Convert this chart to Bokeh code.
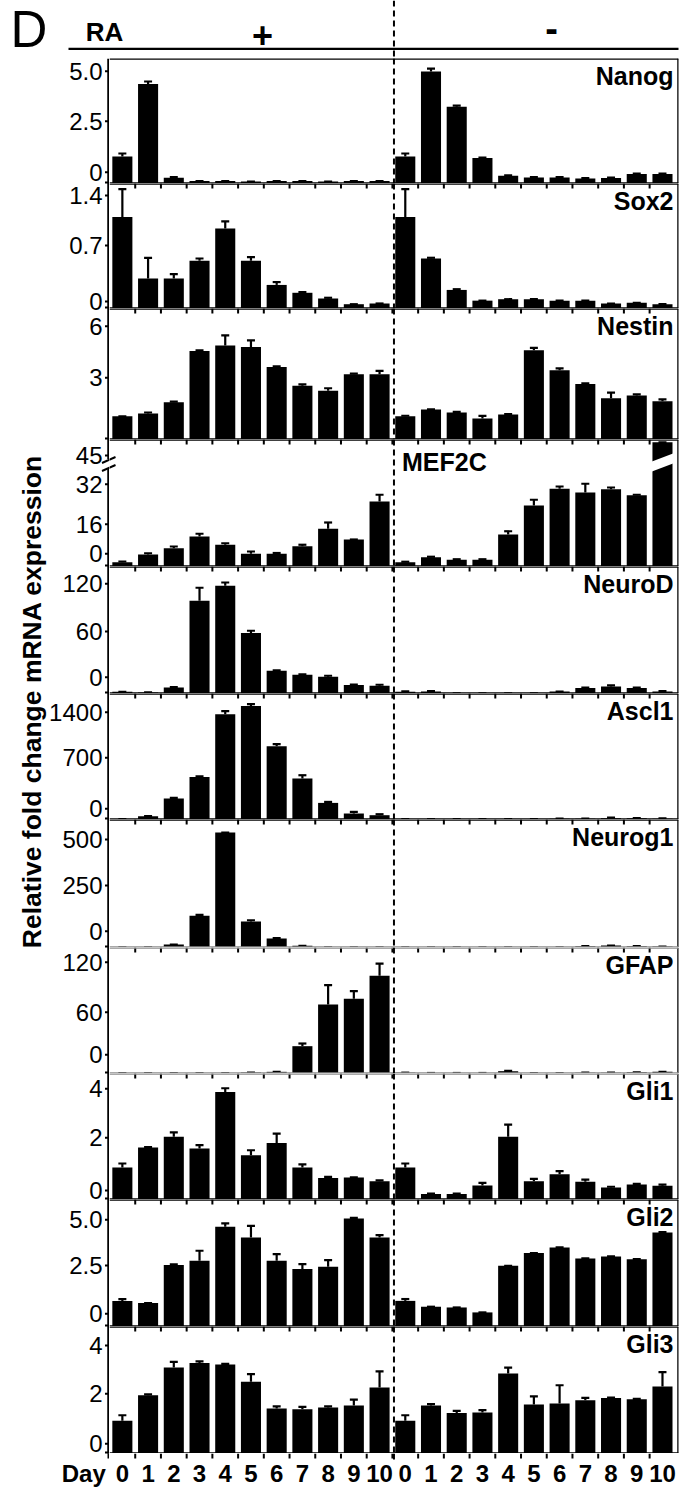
import math
from bokeh.plotting import figure
from bokeh.layouts import column, row
from bokeh.models import (Range1d, Span, Whisker, TeeHead, ColumnDataSource, Arrow)
from bokeh.embed import file_html
from bokeh.resources import INLINE
from bokeh.core.properties import value

# ---------------- data ----------------
DAYS = ["0", "1", "2", "3", "4", "5", "6", "7", "8", "9", "10"]
GENES = ["Nanog", "Sox2", "Nestin", "MEF2C", "NeuroD", "Ascl1", "Neurog1",
         "GFAP", "Gli1", "Gli2", "Gli3"]

NANOG_RA = [1.35, 4.97, 0.29, 0.12, 0.12, 0.10, 0.12, 0.12, 0.10, 0.12, 0.12]
NANOG_RA_SEM = [0.15, 0.13, 0.03, 0, 0, 0, 0, 0, 0, 0, 0]
NANOG_NORA = [1.35, 5.60, 3.84, 1.27, 0.39, 0.30, 0.30, 0.25, 0.27, 0.47, 0.47]
NANOG_NORA_SEM = [0.15, 0.14, 0.05, 0.03, 0.02, 0.02, 0.02, 0.02, 0.02, 0.02, 0.02]
NANOG_TICKS = ["0", "2.5", "5.0"]

SOX2_RA = [1.28, 0.42, 0.42, 0.67, 1.12, 0.67, 0.33, 0.22, 0.14, 0.06, 0.07]
SOX2_RA_SEM = [0.39, 0.29, 0.06, 0.03, 0.10, 0.05, 0.04, 0.01, 0.01, 0, 0]
SOX2_NORA = [1.28, 0.70, 0.26, 0.11, 0.13, 0.13, 0.11, 0.11, 0.07, 0.08, 0.06]
SOX2_NORA_SEM = [0.39, 0.01, 0.01, 0, 0, 0, 0, 0, 0, 0, 0]
SOX2_TICKS = ["0", "0.7", "1.4"]

NESTIN_RA = [1.35, 1.51, 2.17, 5.15, 5.47, 5.38, 4.22, 3.12, 2.83, 3.80, 3.80]
NESTIN_RA_SEM = [0, 0.06, 0.03, 0.03, 0.58, 0.38, 0.03, 0.08, 0.15, 0.03, 0.19]
NESTIN_NORA = [1.35, 1.74, 1.57, 1.22, 1.45, 5.19, 4.03, 3.22, 2.40, 2.56, 2.23]
NESTIN_NORA_SEM = [0.03, 0.02, 0.04, 0.15, 0.03, 0.14, 0.10, 0.04, 0.33, 0.06, 0.10]
NESTIN_TICKS = ["3", "6"]

MEF2C_RA = [1.7, 4.8, 7.3, 12.0, 8.7, 5.1, 5.1, 8.1, 15.1, 10.8, 26.0]
MEF2C_RA_SEM = [0.3, 0.5, 0.7, 1.1, 0.6, 0.9, 0.3, 0.6, 2.5, 0, 2.7]
MEF2C_NORA = [1.7, 3.7, 2.7, 2.7, 12.8, 24.4, 31.1, 29.6, 30.9, 28.5, 49.7]
MEF2C_NORA_SEM = [0.2, 0.2, 0.2, 0.2, 1.3, 2.3, 0.9, 3.5, 0.7, 0.2, 0]
MEF2C_TICKS = ["0", "16", "32", "45"]

NEUROD_RA = [2.1, 1.3, 7.5, 116.6, 135.5, 76.0, 28.6, 23.5, 21.0, 10.6, 9.7]
NEUROD_RA_SEM = [0, 0, 0.5, 16.4, 4.1, 2.9, 0.5, 0.5, 1.3, 0.5, 1.3]
NEUROD_NORA = [2.1, 2.5, 0.3, 0.3, 0.3, 0.3, 2.5, 6.8, 8.8, 6.8, 2.5]
NEUROD_NORA_SEM = [0.5, 0.5, 0, 0, 0, 0, 0, 0.5, 1.3, 0.5, 0.5]
NEUROD_TICKS = ["0", "60", "120"]

ASCL1_RA = [5, 51, 322, 654, 1617, 1745, 1126, 630, 255, 92, 66]
ASCL1_RA_SEM = [0, 0, 10, 10, 47, 26, 31, 50, 15, 25, 15]
ASCL1_NORA = [5, 5, 5, 5, 5, 8, 13, 13, 18, 18, 13]
ASCL1_NORA_SEM = [0, 0, 0, 0, 0, 0, 0, 0, 10, 5, 5]
ASCL1_TICKS = ["0", "700", "1400"]

NEUROG1_RA = [1, 1, 16, 172, 625, 141, 49, 9, 1, 1, 1]
NEUROG1_RA_SEM = [0, 0, 0, 5, 0, 7, 2, 0, 0, 0, 0]
NEUROG1_NORA = [1, 1, 1, 1, 1, 1, 1, 7, 11, 7, 5]
NEUROG1_NORA_SEM = [0, 0, 0, 0, 0, 0, 0, 0, 0, 0, 0]
NEUROG1_TICKS = ["0", "250", "500"]

GFAP_RA = [0.6, 0.6, 0.6, 0.6, 0.6, 1.2, 2.0, 32.8, 82.8, 89.6, 117.2]
GFAP_RA_SEM = [0, 0, 0, 0, 0, 0, 0, 3.2, 23.2, 9.2, 14.8]
GFAP_NORA = [1.0, 0.6, 0.6, 0.6, 2.8, 0.6, 0.6, 1.0, 1.0, 1.5, 2.0]
GFAP_NORA_SEM = [0, 0, 0, 0, 0.4, 0, 0, 0, 0, 0, 0]
GFAP_TICKS = ["0", "60", "120"]

GLI1_RA = [1.31, 2.12, 2.56, 2.08, 4.39, 1.81, 2.31, 1.31, 0.88, 0.90, 0.75]
GLI1_RA_SEM = [0.16, 0.02, 0.18, 0.14, 0.15, 0.20, 0.38, 0.12, 0.04, 0, 0.03]
GLI1_NORA = [1.31, 0.22, 0.22, 0.57, 2.56, 0.75, 1.03, 0.72, 0.49, 0.61, 0.56]
GLI1_NORA_SEM = [0.16, 0.02, 0.02, 0.11, 0.50, 0.09, 0.13, 0.09, 0.03, 0.03, 0.05]
GLI1_TICKS = ["0", "2", "4"]

GLI2_RA = [1.40, 1.28, 3.36, 3.59, 5.45, 4.86, 3.59, 3.14, 3.26, 5.90, 4.86]
GLI2_RA_SEM = [0.10, 0, 0.03, 0.55, 0.18, 0.64, 0.37, 0.27, 0.37, 0.04, 0.13]
GLI2_NORA = [1.40, 1.08, 1.04, 0.77, 3.32, 4.01, 4.32, 3.72, 3.83, 3.68, 5.14]
GLI2_NORA_SEM = [0.10, 0, 0, 0, 0, 0, 0, 0, 0, 0, 0.02]
GLI2_TICKS = ["0", "2.5", "5.0"]

GLI3_RA = [1.35, 2.41, 3.55, 3.74, 3.68, 2.96, 1.86, 1.83, 1.90, 1.98, 2.73]
GLI3_RA_SEM = [0.23, 0.03, 0.24, 0.07, 0.02, 0.32, 0.09, 0.10, 0.05, 0.25, 0.66]
GLI3_NORA = [1.35, 1.98, 1.67, 1.69, 3.31, 2.02, 2.07, 2.20, 2.29, 2.24, 2.77]
GLI3_NORA_SEM = [0.23, 0.06, 0.09, 0.10, 0.24, 0.34, 0.75, 0.10, 0.02, 0.02, 0.59]
GLI3_TICKS = ["0", "2", "4"]

DATA = {
    "Nanog": (NANOG_RA, NANOG_RA_SEM, NANOG_NORA, NANOG_NORA_SEM, NANOG_TICKS),
    "Sox2": (SOX2_RA, SOX2_RA_SEM, SOX2_NORA, SOX2_NORA_SEM, SOX2_TICKS),
    "Nestin": (NESTIN_RA, NESTIN_RA_SEM, NESTIN_NORA, NESTIN_NORA_SEM, NESTIN_TICKS),
    "MEF2C": (MEF2C_RA, MEF2C_RA_SEM, MEF2C_NORA, MEF2C_NORA_SEM, MEF2C_TICKS),
    "NeuroD": (NEUROD_RA, NEUROD_RA_SEM, NEUROD_NORA, NEUROD_NORA_SEM, NEUROD_TICKS),
    "Ascl1": (ASCL1_RA, ASCL1_RA_SEM, ASCL1_NORA, ASCL1_NORA_SEM, ASCL1_TICKS),
    "Neurog1": (NEUROG1_RA, NEUROG1_RA_SEM, NEUROG1_NORA, NEUROG1_NORA_SEM, NEUROG1_TICKS),
    "GFAP": (GFAP_RA, GFAP_RA_SEM, GFAP_NORA, GFAP_NORA_SEM, GFAP_TICKS),
    "Gli1": (GLI1_RA, GLI1_RA_SEM, GLI1_NORA, GLI1_NORA_SEM, GLI1_TICKS),
    "Gli2": (GLI2_RA, GLI2_RA_SEM, GLI2_NORA, GLI2_NORA_SEM, GLI2_TICKS),
    "Gli3": (GLI3_RA, GLI3_RA_SEM, GLI3_NORA, GLI3_NORA_SEM, GLI3_TICKS),
}

# ---------------- layout (page pixel positions) ----------------
FONT = "Liberation Sans"
PAGE_W = 687
PAGE_H = 1488
FRAME_X0 = 109                      # left edge of the bar frames
PANEL_W = PAGE_W - FRAME_X0
RIGHT_B = 9
FRAME_W = PANEL_W - RIGHT_B
SLOT_PX = 25.72
X_END = FRAME_W / SLOT_PX
DASH_X = 11.06
BAR_W = 0.78
HEADER_H = 58
BOTTOM_TOP = 1453
AXIS_X = 108.0
GRAY = "#8c8c8c"

LAYOUT = {
    "Nanog":   dict(top=58, bot=183, ppu=20.0, tick_y=[171.7, 120.7, 70.7]),
    "Sox2":    dict(top=183, bot=308, ppu=71.43, tick_y=[301.0, 245.0, 195.0]),
    "Nestin":  dict(top=308, bot=439, ppu=17.2, tick_y=[377.3, 325.7]),
    "MEF2C":   dict(top=439, bot=566, ppu=2.5, tick_y=[553.3, 523.7, 483.7, 455.0]),
    "NeuroD":  dict(top=566, bot=693, ppu=0.795, tick_y=[676.7, 631.0, 583.3]),
    "Ascl1":   dict(top=693, bot=819, ppu=0.0651, tick_y=[808.3, 757.3, 711.7]),
    "Neurog1": dict(top=819, bot=947, ppu=0.184, tick_y=[930.7, 885.0, 839.0]),
    "GFAP":    dict(top=947, bot=1073, ppu=0.833, tick_y=[1054.3, 1011.7, 961.7]),
    "Gli1":    dict(top=1073, bot=1199, ppu=24.5, tick_y=[1190.0, 1137.3, 1088.3]),
    "Gli2":    dict(top=1199, bot=1326, ppu=18.3, tick_y=[1313.3, 1265.0, 1219.3]),
    "Gli3":    dict(top=1326, bot=1453, ppu=24.2, tick_y=[1443.3, 1393.3, 1345.0]),
}
GRAY_BOTTOM = {"Neurog1", "GFAP"}
GRAY_TOP = {"GFAP", "Gli1"}
BREAK_GAP = (458.5, 468.5)          # axis break of the MEF2C panel (page y)

XS = [i + 0.5 for i in range(22)]
BOUNDS = [float(i) for i in range(1, 22)]


def base_fig(**kw):
    p = figure(toolbar_location=None, output_backend="svg", x_axis_location=None,
               y_axis_location=None, **kw)
    p.frame_align = False
    p.outline_line_color = None
    p.background_fill_color = "white"
    p.border_fill_color = "white"
    for g in p.grid:
        g.visible = False
    return p


def make_panel(gene, idx):
    ra, ra_sem, nora, nora_sem, ticks = DATA[gene]
    lay = LAYOUT[gene]
    top, bot, ppu = lay["top"], lay["bot"], lay["ppu"]
    h = bot - top
    y_end = h / ppu
    vals = list(ra) + list(nora)
    sems = list(ra_sem) + list(nora_sem)
    src = ColumnDataSource(dict(x=XS, top=vals,
                                upper=[v + s for v, s in zip(vals, sems)]))
    p = base_fig(width=PANEL_W, height=h,
                 x_range=Range1d(0, X_END), y_range=Range1d(0, y_end),
                 min_border_left=0, min_border_right=RIGHT_B,
                 min_border_top=0, min_border_bottom=0)

    p.vbar(x="x", top="top", bottom=0, width=BAR_W, source=src,
           fill_color="black", line_color=None)
    p.add_layout(Whisker(source=src, base="x", lower="top", upper="upper",
                         dimension="height", line_width=2.2, line_color="black",
                         upper_head=TeeHead(size=8, line_width=2.2, line_color="black"),
                         lower_head=None))

    # frame lines
    p.add_layout(Span(location=X_END, dimension="height", line_width=2.5, line_color="black"))
    p.add_layout(Span(location=y_end, dimension="width", line_width=2.5,
                      line_color=GRAY if gene in GRAY_TOP else "black"))
    p.add_layout(Span(location=0, dimension="width", line_width=2.5,
                      line_color=GRAY if gene in GRAY_BOTTOM else "black"))
    p.add_layout(Span(location=DASH_X, dimension="height", line_width=2,
                      line_color="black", line_dash="6 4"))

    # day-boundary ticks of the panel above
    if idx > 0:
        p.segment(x0=BOUNDS, y0=[y_end] * len(BOUNDS), x1=BOUNDS,
                  y1=[y_end - 5 / ppu] * len(BOUNDS), line_width=2, line_color="black")

    # gene title
    if gene == "MEF2C":
        p.text(x=[(401.5 - FRAME_X0) / SLOT_PX], y=[(bot - 461) / ppu], text=[gene],
               text_font=value(FONT), text_font_size="25px", text_font_style="bold",
               text_align="left", text_baseline="middle", text_color="black")
        # right half of the axis-break strokes
        for y_a, y_b in ((462.5, 456.5), (470.5, 464.5)):
            p.add_layout(Arrow(x_start=-7.5 / SLOT_PX, y_start=(bot - y_a) / ppu,
                               x_end=6 / SLOT_PX, y_end=(bot - y_b) / ppu,
                               end=None, line_color="black", line_width=2))
        # break across the last bar
        bx = XS[21]
        x0, x1 = bx - BAR_W / 2 - 0.02, bx + BAR_W / 2 + 0.02
        p.patch(x=[x0, x1, x1, x0],
                y=[(bot - 461) / ppu, (bot - 453) / ppu, (bot - 463) / ppu, (bot - 471) / ppu],
                fill_color="white", line_color=None)
    else:
        p.text(x=[X_END], y=[y_end - 17.5 / ppu], text=[gene], x_offset=-5,
               text_font=value(FONT), text_font_size="25px", text_font_style="bold",
               text_align="right", text_baseline="middle", text_color="black")
    return p


# header (page coordinates)
header = base_fig(width=PAGE_W, height=HEADER_H, x_range=Range1d(0, PAGE_W),
                  y_range=Range1d(HEADER_H, 0), min_border=0)
header.text(x=[28.5], y=[29], text=["D"], text_font=value(FONT), text_font_size="51px",
            text_align="center", text_baseline="middle")
header.text(x=[104], y=[31.5], text=["RA"], text_font=value(FONT), text_font_size="26px",
            text_font_style="bold", text_align="center", text_baseline="middle")
header.text(x=[262], y=[34], text=["+"], text_font=value(FONT), text_font_size="36px",
            text_font_style="bold", text_align="center", text_baseline="middle")
header.text(x=[551], y=[28], text=["-"], text_font=value(FONT), text_font_size="38px",
            text_font_style="bold", text_align="center", text_baseline="middle")
header.segment(x0=[68], y0=[48.3], x1=[678], y1=[48.3], line_width=2.2, line_color="black")
dash_px = FRAME_X0 + DASH_X * SLOT_PX
header.segment(x0=[dash_px], y0=[0], x1=[dash_px], y1=[HEADER_H], line_width=2,
               line_color="black", line_dash="6 4")

# left strip: shared y title, y tick labels, tick marks, y axis lines, "Day" (page coords)
left = base_fig(width=FRAME_X0, height=PAGE_H - HEADER_H, x_range=Range1d(0, FRAME_X0),
                y_range=Range1d(PAGE_H, HEADER_H), min_border=0)
left.text(x=[31], y=[701], text=["Relative fold change mRNA expression"], angle=math.pi / 2,
          text_font=value(FONT), text_font_size="26.5px", text_font_style="bold",
          text_align="center", text_baseline="middle")
lab_y, lab_t, tick_y = [], [], []
for g in GENES:
    lay = LAYOUT[g]
    lab_y += lay["tick_y"]
    lab_t += DATA[g][4]
    tick_y += lay["tick_y"] + [lay["bot"] - 1]
left.text(x=[FRAME_X0 - 7] * len(lab_y), y=lab_y, text=lab_t, text_font=value(FONT),
          text_font_size="24px", text_align="right", text_baseline="middle",
          text_color="black")
left.segment(x0=[FRAME_X0 - 4.5] * len(tick_y), y0=tick_y, x1=[FRAME_X0] * len(tick_y),
             y1=tick_y, line_width=2, line_color="black")
left.segment(x0=[AXIS_X, AXIS_X], y0=[HEADER_H, BREAK_GAP[1]], x1=[AXIS_X, AXIS_X],
             y1=[BREAK_GAP[0], BOTTOM_TOP], line_width=2.5, line_color="black")
left.segment(x0=[101.5, 101.5], y0=[462.5, 470.5], x1=[115, 115], y1=[456.5, 464.5],
             line_width=2, line_color="black")
left.segment(x0=[AXIS_X], y0=[BOTTOM_TOP], x1=[AXIS_X], y1=[BOTTOM_TOP + 5],
             line_width=2, line_color="black")
left.text(x=[83.3], y=[1473], text=["Day"], text_font=value(FONT),
          text_font_size="24px", text_font_style="bold", text_align="center",
          text_baseline="middle")

# bottom strip with day labels (slot units horizontally)
bottom = base_fig(width=PANEL_W, height=PAGE_H - BOTTOM_TOP,
                  x_range=Range1d(0, PANEL_W / SLOT_PX),
                  y_range=Range1d(PAGE_H, BOTTOM_TOP), min_border=0)
bottom.text(x=XS, y=[1473] * len(XS), text=DAYS + DAYS, text_font=value(FONT),
            text_font_size="24px", text_font_style="bold", text_align="center",
            text_baseline="middle")
bottom.segment(x0=BOUNDS, y0=[BOTTOM_TOP] * len(BOUNDS), x1=BOUNDS,
               y1=[BOTTOM_TOP + 5] * len(BOUNDS), line_width=2, line_color="black")
bottom.segment(x0=[DASH_X], y0=[BOTTOM_TOP], x1=[DASH_X], y1=[1462], line_width=2,
               line_color="black", line_dash="6 4")

panels = [make_panel(g, i) for i, g in enumerate(GENES)]
layout = column(header, row(left, column(*panels, bottom, spacing=0), spacing=0),
                spacing=0)

open("out.html", "w").write(file_html(layout, INLINE))
